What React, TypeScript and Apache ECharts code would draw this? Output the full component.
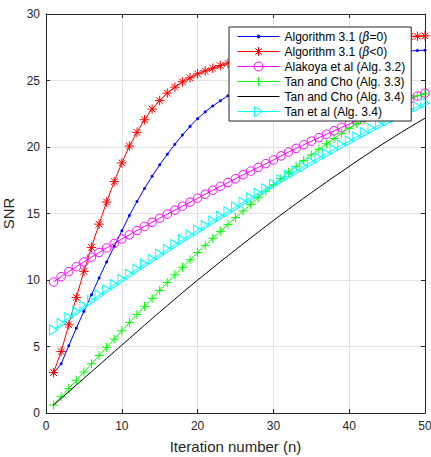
import React, { useEffect, useRef } from "react";
import * as echarts from "echarts";

const iterations = [1, 2, 3, 4, 5, 6, 7, 8, 9, 10, 11, 12, 13, 14, 15, 16, 17, 18, 19, 20, 21, 22, 23, 24, 25, 26, 27, 28, 29, 30, 31, 32, 33, 34, 35, 36, 37, 38, 39, 40, 41, 42, 43, 44, 45, 46, 47, 48, 49, 50];

const alg31Beta0 = [3.0, 3.7, 5.05, 6.38, 7.64, 8.89, 10.15, 11.36, 12.53, 13.7, 14.85, 15.9, 16.88, 17.8, 18.66, 19.45, 20.2, 20.9, 21.55, 22.13, 22.64, 23.08, 23.48, 23.85, 24.2, 24.52, 24.82, 25.1, 25.36, 25.6, 25.82, 26.02, 26.2, 26.36, 26.5, 26.62, 26.72, 26.8, 26.87, 26.93, 26.98, 27.02, 27.06, 27.1, 27.13, 27.16, 27.19, 27.22, 27.25, 27.28];

const alg31BetaNeg = [3.04, 4.62, 6.63, 8.69, 10.65, 12.45, 14.2, 15.86, 17.4, 18.8, 20.07, 21.1, 22.05, 22.85, 23.5, 24.05, 24.5, 24.9, 25.2, 25.5, 25.72, 25.92, 26.12, 26.3, 26.46, 26.61, 26.75, 26.88, 27.0, 27.12, 27.23, 27.33, 27.43, 27.52, 27.6, 27.68, 27.75, 27.82, 27.88, 27.94, 28.0, 28.05, 28.1, 28.14, 28.18, 28.22, 28.26, 28.3, 28.33, 28.36];

const alakoya32 = [9.85, 10.25, 10.63, 11.0, 11.36, 11.72, 12.07, 12.41, 12.75, 13.08, 13.4, 13.72, 14.03, 14.34, 14.65, 14.95, 15.25, 15.55, 15.85, 16.15, 16.45, 16.75, 17.04, 17.33, 17.62, 17.91, 18.19, 18.47, 18.75, 19.03, 19.33, 19.62, 19.9, 20.17, 20.44, 20.7, 20.96, 21.22, 21.47, 21.72, 21.97, 22.21, 22.45, 22.69, 22.92, 23.15, 23.38, 23.61, 23.83, 24.05];

const tanCho33 = [0.6, 1.22, 1.84, 2.46, 3.08, 3.7, 4.32, 4.94, 5.56, 6.18, 6.8, 7.41, 8.02, 8.62, 9.22, 9.81, 10.39, 10.96, 11.52, 12.07, 12.61, 13.14, 13.66, 14.18, 14.69, 15.19, 15.69, 16.19, 16.68, 17.16, 17.63, 18.09, 18.54, 18.98, 19.41, 19.83, 20.24, 20.64, 21.03, 21.41, 21.77, 22.11, 22.43, 22.73, 23.0, 23.25, 23.47, 23.67, 23.85, 24.0];

const tanCho34 = [0.6, 1.1, 1.6, 2.1, 2.6, 3.1, 3.6, 4.1, 4.6, 5.1, 5.6, 6.1, 6.6, 7.1, 7.59, 8.08, 8.57, 9.05, 9.52, 9.99, 10.45, 10.91, 11.37, 11.82, 12.27, 12.72, 13.16, 13.6, 14.04, 14.47, 14.9, 15.32, 15.74, 16.15, 16.56, 16.96, 17.36, 17.76, 18.15, 18.54, 18.93, 19.31, 19.69, 20.07, 20.43, 20.79, 21.14, 21.49, 21.83, 22.17];

const tanEtAl34 = [6.25, 6.72, 7.17, 7.61, 8.04, 8.46, 8.87, 9.27, 9.66, 10.05, 10.43, 10.81, 11.19, 11.56, 11.93, 12.3, 12.66, 13.02, 13.38, 13.74, 14.09, 14.44, 14.79, 15.14, 15.49, 15.84, 16.18, 16.52, 16.86, 17.2, 17.54, 17.87, 18.2, 18.53, 18.86, 19.18, 19.5, 19.82, 20.14, 20.45, 20.76, 21.07, 21.37, 21.67, 21.95, 22.22, 22.5, 22.77, 23.03, 23.3];

const seriesNames = [
  "Algorithm 3.1 (β=0)",
  "Algorithm 3.1 (β<0)",
  "Alakoya et al (Alg. 3.2)",
  "Tan and Cho (Alg. 3.3)",
  "Tan and Cho (Alg. 3.4)",
  "Tan et al (Alg. 3.4)",
];
const seriesValues = [alg31Beta0, alg31BetaNeg, alakoya32, tanCho33, tanCho34, tanEtAl34];
const seriesColors = ["#0000ff", "#ff0000", "#ff00ff", "#00ff00", "#000000", "#00ffff"];

const xTicks = { min: 0, max: 50, interval: 10 };
const yTicks = { min: 0, max: 30, interval: 5 };

const FONT = '"Liberation Sans", Arial, Helvetica, sans-serif';
const AXIS_COLOR = "#262626";
const GRID_COLOR = "#e3e3e3";
const CLEAR = "rgba(0,0,0,0)";

const STAR = "path://M5,0L5,10M0,5L10,5M1.5,1.5L8.5,8.5M1.5,8.5L8.5,1.5";
const PLUS = "path://M5,0L5,10M0,5L10,5";
const TRI_RIGHT = "path://M0,0L8,5L0,10Z";

const FRAME = "M0,0L0,0M42,12L42,12M0,6L42,6";
const legendIcons = [
  "path://" + FRAME + "M19.5,6A1.5,1.5 0 1 1 22.5,6A1.5,1.5 0 1 1 19.5,6Z",
  "path://" + FRAME + "M21,1.5L21,10.5M16.5,6L25.5,6M17.8,2.8L24.2,9.2M17.8,9.2L24.2,2.8",
  "path://" + FRAME + "M16.5,6A4.5,4.5 0 1 1 25.5,6A4.5,4.5 0 1 1 16.5,6Z",
  "path://" + FRAME + "M21,1.5L21,10.5M16.5,6L25.5,6",
  "path://" + FRAME,
  "path://" + FRAME + "M17,1L25,6L17,11Z",
];

const markerSymbols = ["circle", STAR, "circle", PLUS, "none", TRI_RIGHT];
const markerSizes: any[] = [3, 9.5, 8.5, 9, 0, [8, 10]];
const markerFilled = [true, false, false, false, false, false];

export default function App() {
  const ref = useRef<HTMLDivElement>(null);

  useEffect(() => {
    if (!ref.current) return;
    const chart = echarts.init(ref.current, undefined, { renderer: "svg" });

    const series = seriesNames.map((name, k) => ({
      name,
      type: "line",
      xAxisIndex: 0,
      yAxisIndex: 0,
      data: iterations.map((n, i) => [n, seriesValues[k][i]]),
      symbol: markerSymbols[k],
      symbolSize: markerSizes[k],
      showSymbol: markerSymbols[k] !== "none",
      showAllSymbol: true,
      clip: true,
      lineStyle: { color: seriesColors[k], width: 1 },
      itemStyle: {
        color: markerFilled[k] ? seriesColors[k] : CLEAR,
        borderColor: seriesColors[k],
        borderWidth: markerFilled[k] ? 0 : 1,
      },
      emphasis: { disabled: true },
      z: 2 + k,
    }));

    const legendData = seriesNames.map((name, k) => ({
      name,
      icon: legendIcons[k],
      itemStyle: {
        color: markerFilled[k] ? seriesColors[k] : CLEAR,
        borderColor: seriesColors[k],
        borderWidth: 1,
      },
    }));

    const tickLabel = { color: AXIS_COLOR, fontSize: 12, fontFamily: FONT };
    const axisLine = { show: true, onZero: false, lineStyle: { color: AXIS_COLOR, width: 1 } };
    const axisTick = { show: true, inside: true, length: 4, lineStyle: { color: AXIS_COLOR } };

    chart.setOption({
      animation: false,
      backgroundColor: "#ffffff",
      textStyle: { fontFamily: FONT },
      grid: {
        left: 46,
        right: 6,
        top: 14,
        bottom: 44,
        show: false,
        containLabel: false,
        outerBoundsMode: "none",
      },
      legend: {
        data: legendData,
        orient: "vertical",
        left: 229,
        top: 27,
        padding: [3, 6, 3, 8],
        itemWidth: 42,
        itemHeight: 12,
        itemGap: 2,
        backgroundColor: "#ffffff",
        borderColor: AXIS_COLOR,
        borderWidth: 1,
        selectedMode: false,
        formatter: (name: string) => name.replace("β", "{g|β}"),
        textStyle: {
          color: "#000000",
          fontSize: 12,
          fontFamily: FONT,
          lineHeight: 12,
          rich: {
            g: { fontStyle: "italic", fontFamily: '"DejaVu Serif", serif', fontSize: 12, lineHeight: 12, color: "#000000" },
          },
        },
        z: 20,
      },
      xAxis: [
        {
          type: "value",
          position: "bottom",
          ...xTicks,
          name: "Iteration number (n)",
          nameLocation: "middle",
          nameGap: 26,
          nameTextStyle: { color: AXIS_COLOR, fontSize: 15, fontFamily: FONT },
          axisLine,
          axisTick,
          axisLabel: { ...tickLabel, margin: 7 },
          splitLine: { show: true, lineStyle: { color: GRID_COLOR, width: 1 } },
        },
        {
          type: "value",
          position: "top",
          ...xTicks,
          axisLine,
          axisTick,
          axisLabel: { show: false },
          splitLine: { show: false },
        },
      ],
      yAxis: [
        {
          type: "value",
          position: "left",
          ...yTicks,
          name: "SNR",
          nameLocation: "middle",
          nameGap: 24,
          nameTextStyle: { color: AXIS_COLOR, fontSize: 15, fontFamily: FONT },
          axisLine,
          axisTick,
          axisLabel: { ...tickLabel, margin: 6 },
          splitLine: { show: true, lineStyle: { color: GRID_COLOR, width: 1 } },
        },
        {
          type: "value",
          position: "right",
          ...yTicks,
          axisLine,
          axisTick,
          axisLabel: { show: false },
          splitLine: { show: false },
        },
      ],
      series,
    });

    return () => {
      chart.dispose();
    };
  }, []);

  return (
    <div
      ref={ref}
      style={{ position: "absolute", left: 0, top: 0, width: 431, height: 457, background: "#fff" }}
    />
  );
}
